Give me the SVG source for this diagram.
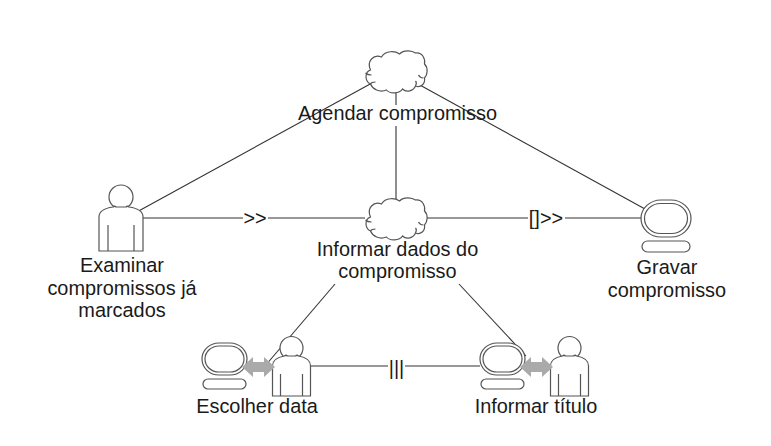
<svg xmlns="http://www.w3.org/2000/svg" xmlns:xlink="http://www.w3.org/1999/xlink" width="771" height="446" viewBox="0 0 771 446">
<style>
text{font-family:"Liberation Sans",Arial,sans-serif;font-size:19.9px;fill:#1a1a1a;text-anchor:middle}
.s{fill:#fff;stroke:#555;stroke-width:1.2}
.n{fill:none;stroke:#555;stroke-width:1.2}
.c{fill:none;stroke:#333;stroke-width:1.1}
.d{fill:#aaa;stroke:none}
</style>
<defs>
<g id="cloud">
<path class="s" d="M5 33C-1 30 -1 21 5 19C1 10 8 3 16 6C20 -1 30 0 34 3C39 -2 47 0 50 2C57 1 60 8 59 13C63 17 62 24 59 27C60 33 55 37 50 35C48 40 41 42 37 38C34 43 24 43 21 39C14 42 7 38 5 33Z"/>
<path class="n" d="M5 33C6 31 8 31 10 31M0 22C2 24 4 24 6 24M50 35C51 33 51 31 50 30M53 24C54 26 56 27 58 27"/>
</g>
<g id="person">
<circle class="s" cx="0" cy="-10" r="12"/>
<path class="s" d="M-22 44V10C-22 3 -15 1 -8 0C-7 -1 -6 -1 -5 0L5 0C6 -1 7 -1 8 0C15 1 22 3 22 10V44Z"/>
<path class="n" d="M-13 18V44M13 18V44"/>
</g>
<g id="pc">
<rect class="s" x="-25" y="-18.5" width="50" height="37" rx="20" ry="18.5"/>
<rect class="s" x="-21.500" y="-15" width="43" height="30" rx="16" ry="15"/>
<rect class="s" x="-24" y="22.500" width="48" height="11" rx="5.500"/>
</g>
<g id="pcs">
<rect class="s" x="-22.500" y="-16" width="45" height="32" rx="17" ry="16"/>
<rect class="s" x="-19.500" y="-13" width="39" height="26" rx="14" ry="13"/>
<rect class="s" x="-21.500" y="20" width="43" height="10" rx="5"/>
</g>
<g id="persons">
<circle class="s" cx="0" cy="-8" r="11.500"/>
<path class="s" d="M-19 40V10C-19 3 -13 1 -7 0C-6 -1 -5 -1 -4 0L4 0C5 -1 6 -1 7 0C13 1 19 3 19 10V40Z"/>
<path class="n" d="M-11 18V40M11 18V40"/>
</g>
<path id="dbl" d="M0 0L11 -10V-5H22V-10L33 0L22 10V5H11V10Z"/>
</defs>
<g id="connectors">
<path class="c" d="M372 83L135 213"/>
<path class="c" d="M418 84L645 209"/>
<path class="c" d="M396 92V105M396 126V200"/>
<path class="c" d="M143 218H243M268 218H365"/>
<path class="c" d="M426 218H528M565 218H641"/>
<path class="c" d="M335 284L265 366"/>
<path class="c" d="M459 284L526 356"/>
<path class="c" d="M311 366H388M405 366H480"/>
<text x="255" y="225">&gt;&gt;</text>
<text x="546" y="225">[]&gt;&gt;</text>
<text x="396.500" y="375">|||</text>
</g>
<g id="agendar"><use xlink:href="#cloud" x="365.500" y="51"/><text x="397.500" y="120">Agendar compromisso</text></g>
<g id="informar-dados"><use xlink:href="#cloud" x="365.500" y="198"/><text x="397.500" y="256">Informar dados do</text><text x="397.500" y="278">compromisso</text></g>
<g id="examinar"><use xlink:href="#person" x="121" y="207"/><text x="122" y="272">Examinar</text><text x="122" y="295">compromissos já</text><text x="122" y="317">marcados</text></g>
<g id="gravar"><use xlink:href="#pc" x="666" y="218.500"/><text x="667" y="274">Gravar</text><text x="667" y="297">compromisso</text></g>
<g id="escolher"><use xlink:href="#pcs" x="224.500" y="359"/><use xlink:href="#persons" x="291.500" y="356"/><use xlink:href="#dbl" class="d" x="242" y="367"/><text x="257" y="413">Escolher data</text></g>
<g id="informar-titulo"><use xlink:href="#pcs" x="502.500" y="359"/><use xlink:href="#persons" x="569.500" y="356"/><use xlink:href="#dbl" class="d" x="520" y="367"/><text x="536" y="413">Informar título</text></g>
</svg>
